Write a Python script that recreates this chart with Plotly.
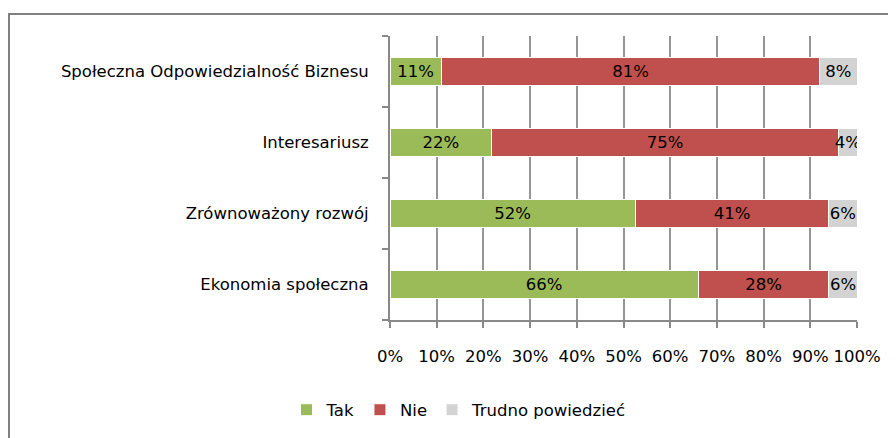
import plotly.graph_objects as go

categories = ["Społeczna Odpowiedzialność Biznesu", "Interesariusz", "Zrównoważony rozwój", "Ekonomia społeczna"]
tak = [11, 22, 52, 66]
nie = [81, 75, 41, 28]
trudno = [8, 4, 6, 6]
series_names = ["Tak", "Nie", "Trudno powiedzieć"]
colors = ["#9BBB59", "#C0504D", "#D3D3D3"]
x_ticks = [0, 10, 20, 30, 40, 50, 60, 70, 80, 90, 100]

FONT = "'DejaVu Sans', sans-serif"
FS = 16.5

# page body has an 8px margin: figure is 888x430 so it sits at 8..896 / 8..438
W, H = 888, 430
L, R, T, B = 382, 39, 28, 118
pw, ph = W - L - R, H - T - B

fig = go.Figure()
for name, vals, col in zip(series_names, [tak, nie, trudno], colors):
    fig.add_trace(go.Bar(
        y=categories, x=vals, name=name, orientation="h",
        marker=dict(color=col, line=dict(color="white", width=1)),
        text=[f"{v}%" for v in vals], textposition="inside",
        insidetextanchor="middle", constraintext="none", textangle=0,
        textfont=dict(color="black", size=FS, family=FONT),
        width=0.4, hoverinfo="skip",
    ))

fig.update_layout(
    width=W, height=H,
    barmode="stack", barnorm="percent",
    paper_bgcolor="white", plot_bgcolor="white",
    margin=dict(l=L, r=R, t=T, b=B, autoexpand=False),
    font=dict(family=FONT, size=FS, color="black"),
    showlegend=True,
    legend=dict(orientation="h", x=(451 - L) / pw, xanchor="center",
                y=(H - B - 402) / ph, yanchor="middle",
                font=dict(size=FS), traceorder="normal", itemwidth=30),
    xaxis=dict(range=[0, 100], tickvals=x_ticks, ticktext=[f"{t}%" for t in x_ticks],
               showgrid=True, gridcolor="#959595", gridwidth=1.6,
               showline=True, linecolor="#888888", linewidth=2,
               ticks="outside", ticklen=6, tickcolor="#888888", tickwidth=2,
               ticklabelstandoff=14, zeroline=False, fixedrange=True),
    yaxis=dict(categoryorder="array", categoryarray=categories[::-1],
               showline=True, linecolor="#888888", linewidth=2,
               ticks="outside", ticklen=6, tickcolor="#888888", tickwidth=2,
               tickson="boundaries", ticklabelstandoff=16, showgrid=False,
               fixedrange=True),
    shapes=[dict(type="rect", xref="paper", yref="paper",
                 x0=(1 - L) / pw, x1=1.3, y0=-0.7, y1=(H - B - 6) / ph,
                 line=dict(color="#808080", width=2), fillcolor="rgba(0,0,0,0)", layer="below")],
)

fig.write_html("out.html")
